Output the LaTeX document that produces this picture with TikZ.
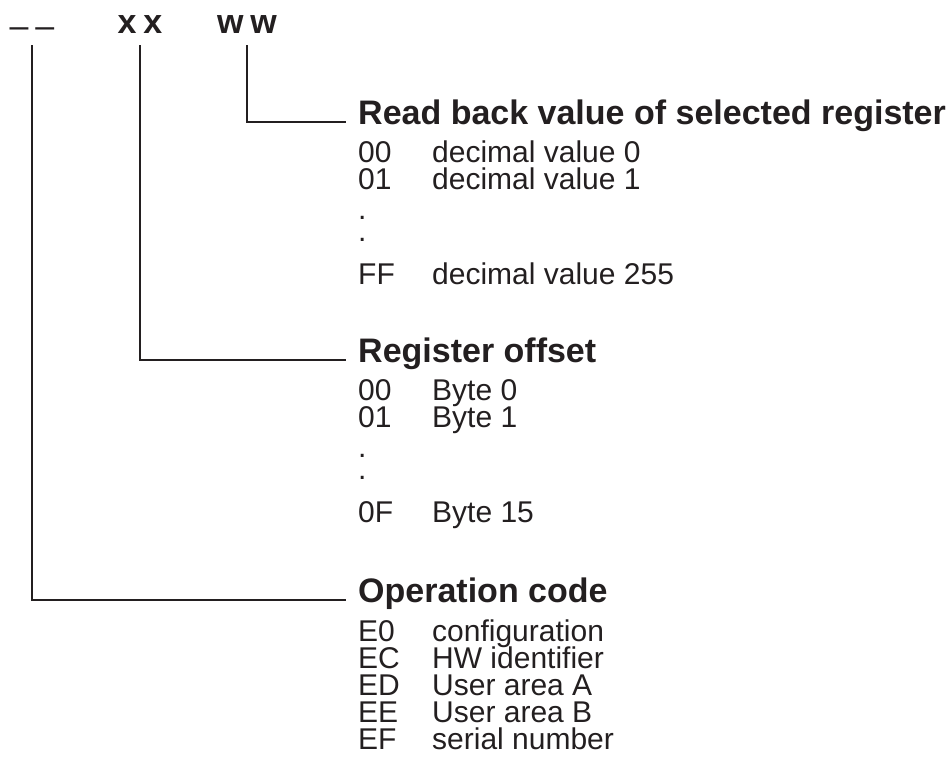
\documentclass[tikz,border=0pt]{standalone}
\usepackage{fontspec}
\setmainfont{Liberation Sans}
\usepackage{tikz}
\usetikzlibrary{positioning}
\definecolor{ink}{HTML}{231F20}
\lineskiplimit=-100pt

\begin{document}
\begin{tikzpicture}[
  x=1pt, y=-1pt,
  every node/.style={text=ink, inner sep=0pt},
  tag/.style={font=\fontsize{34}{34}\selectfont\bfseries, anchor=base, inner ysep=11pt},
  head/.style={font=\fontsize{34}{34}\selectfont\bfseries, anchor=base west, inner xsep=12pt},
  list/.style={font=\fontsize{30}{27}\selectfont, anchor=north west, align=left},
  lead/.style={draw=ink, line width=2.6pt}
]
\useasboundingbox (0,0) rectangle (950,776);

% command fields
\node[tag, font=\fontsize{34}{34}\selectfont, inner ysep=7pt] (opc) at (32,38) {–\kern7pt–};
\node[tag] (off) at (140,34) {x\kern7pt x};
\node[tag] (val) at (247,34) {w\kern7pt w};

% read back value
\node[head] (valhd) at (346,124) {Read back value of selected register};
\node[list] (valcode) at (358,141) {00\\01\\[3pt].\\[-5pt].\\[16pt]FF};
\node[list] (valtext) at (432,141) {decimal value 0\\decimal value 1\\[68pt]decimal value 255};

% register offset
\node[head] (offhd) at (346,362) {Register offset};
\node[list] (offcode) at (358,379) {00\\01\\[3pt].\\[-5pt].\\[16pt]0F};
\node[list] (offtext) at (432,379) {Byte 0\\Byte 1\\[68pt]Byte 15};

% operation code
\node[head] (opchd) at (346,602) {Operation code};
\node[list] (opccode) at (358,620) {E0\\EC\\ED\\EE\\EF};
\node[list] (opctext) at (432,620) {configuration\\HW identifier\\User area A\\User area B\\serial number};

% leaders
\draw[lead] (val.south) |- ([yshift=2pt]valhd.base west);
\draw[lead] (off.south) |- ([yshift=2pt]offhd.base west);
\draw[lead] (opc.south) |- ([yshift=2pt]opchd.base west);
\end{tikzpicture}
\end{document}
